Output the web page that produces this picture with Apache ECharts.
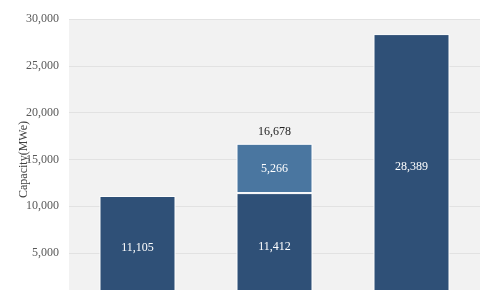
<!DOCTYPE html>
<html><head><meta charset="utf-8">
<script src="https://cdn.jsdelivr.net/npm/echarts@6/dist/echarts.min.js"></script>
<style>html,body{margin:0;padding:0;background:#fff}#c{width:500px;height:290px}</style>
</head><body><div id="c"></div>
<script>
const categories = ['A', 'B', 'C'];
const baseValues = [11105, 11412, 28389];
const upperValues = [null, 5266, null];
const totalLabels = [null, 16678, null];
const yTicks = { min: 0, max: 30000, interval: 5000 };

const fmt = v => v == null ? '' : Number(v).toLocaleString('en-US');
const font = 'Liberation Serif';
const chart = echarts.init(document.getElementById('c'));
chart.setOption({
  animation: false,
  grid: { left: 69, width: 411, top: 19, height: 281, outerBoundsMode: 'none', containLabel: false,
          show: true, backgroundColor: '#f2f2f2', borderWidth: 0 },
  xAxis: { type: 'category', data: categories, axisLine: { show: false }, axisTick: { show: false }, axisLabel: { show: false } },
  yAxis: {
    type: 'value', min: yTicks.min, max: yTicks.max, interval: yTicks.interval,
    name: 'Capacity(MWe)', nameLocation: 'middle', nameGap: 39, nameMoveOverlap: false,
    nameTextStyle: { fontFamily: font, fontSize: 12, color: '#404040' },
    axisLabel: { formatter: fmt, fontFamily: font, fontSize: 12, color: '#595959', margin: 10 },
    splitLine: { lineStyle: { color: '#e2e2e2', width: 1 } },
    axisLine: { show: false }, axisTick: { show: false }
  },
  series: [
    { type: 'bar', stack: 's', data: baseValues, barWidth: 76,
      itemStyle: { color: '#2f5077', borderColor: '#ffffff', borderWidth: 1 },
      label: { show: true, position: 'inside', formatter: p => fmt(p.value), color: '#fff', fontFamily: font, fontSize: 12 } },
    { type: 'bar', stack: 's', data: upperValues, barWidth: 76,
      itemStyle: { color: '#4a76a0', borderColor: '#ffffff', borderWidth: 1 },
      label: { show: true, position: 'inside', formatter: p => fmt(p.value), color: '#fff', fontFamily: font, fontSize: 12 } },
    { type: 'bar', stack: 's', data: totalLabels.map(v => v == null ? null : 0), barWidth: 76,
      itemStyle: { color: 'transparent' },
      label: { show: true, position: 'top', distance: 6, formatter: p => fmt(totalLabels[p.dataIndex]), color: '#222', fontFamily: font, fontSize: 12 } }
  ]
});
</script></body></html>
